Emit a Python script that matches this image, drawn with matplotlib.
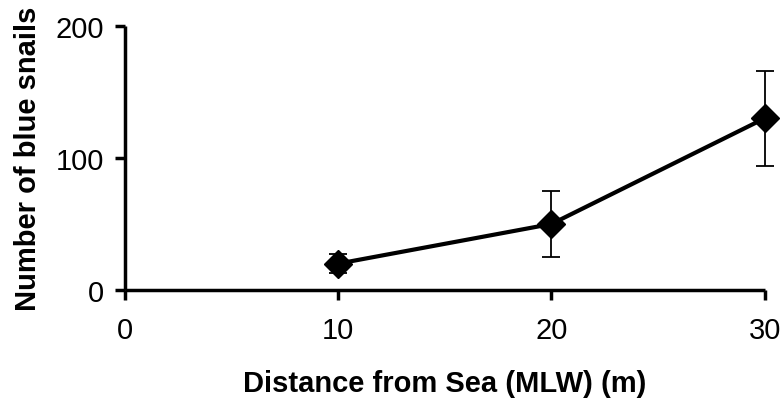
import matplotlib.pyplot as plt

# snail counts by distance up the shore
distance = [10, 20, 30]
snails = [20, 50, 130]
snails_err = [7, 25, 36]

xticks = [0, 10, 20, 30]
yticks = [0, 100, 200]

plt.rcParams['font.family'] = ['Liberation Sans', 'DejaVu Sans']

fig = plt.figure(figsize=(7.81, 4.02), dpi=100)
ax = fig.add_axes([0.160, 0.276, 0.819, 0.657])

line, caps, bars = ax.errorbar(distance, snails, yerr=snails_err, color='black',
                               lw=3, marker='D', ms=14, mfc='black', mec='black',
                               ecolor='black', elinewidth=1.3, capsize=6.5,
                               capthick=1.3, zorder=3)
# the last point sits on the x limit, let it spill over
line.set_clip_on(False)
for a in list(caps) + list(bars):
    a.set_clip_on(False)

ax.set_xlim(0, 30)
ax.set_ylim(0, 200)
ax.set_xticks(xticks)
ax.set_yticks(yticks)

for side in ['top', 'right']:
    ax.spines[side].set_visible(False)
for side in ['left', 'bottom']:
    ax.spines[side].set_linewidth(2.5)
    ax.spines[side].set_capstyle('butt')

ax.tick_params(direction='out', length=7, width=2.5, labelsize=21, pad=12)
ax.tick_params(axis='y', pad=8)

ax.set_xlabel('Distance from Sea (MLW) (m)', fontsize=21, fontweight='bold',
              labelpad=18)
ax.set_ylabel('Number of blue snails', fontsize=21, fontweight='bold',
              labelpad=10)

fig.savefig('out.png', dpi=100)
